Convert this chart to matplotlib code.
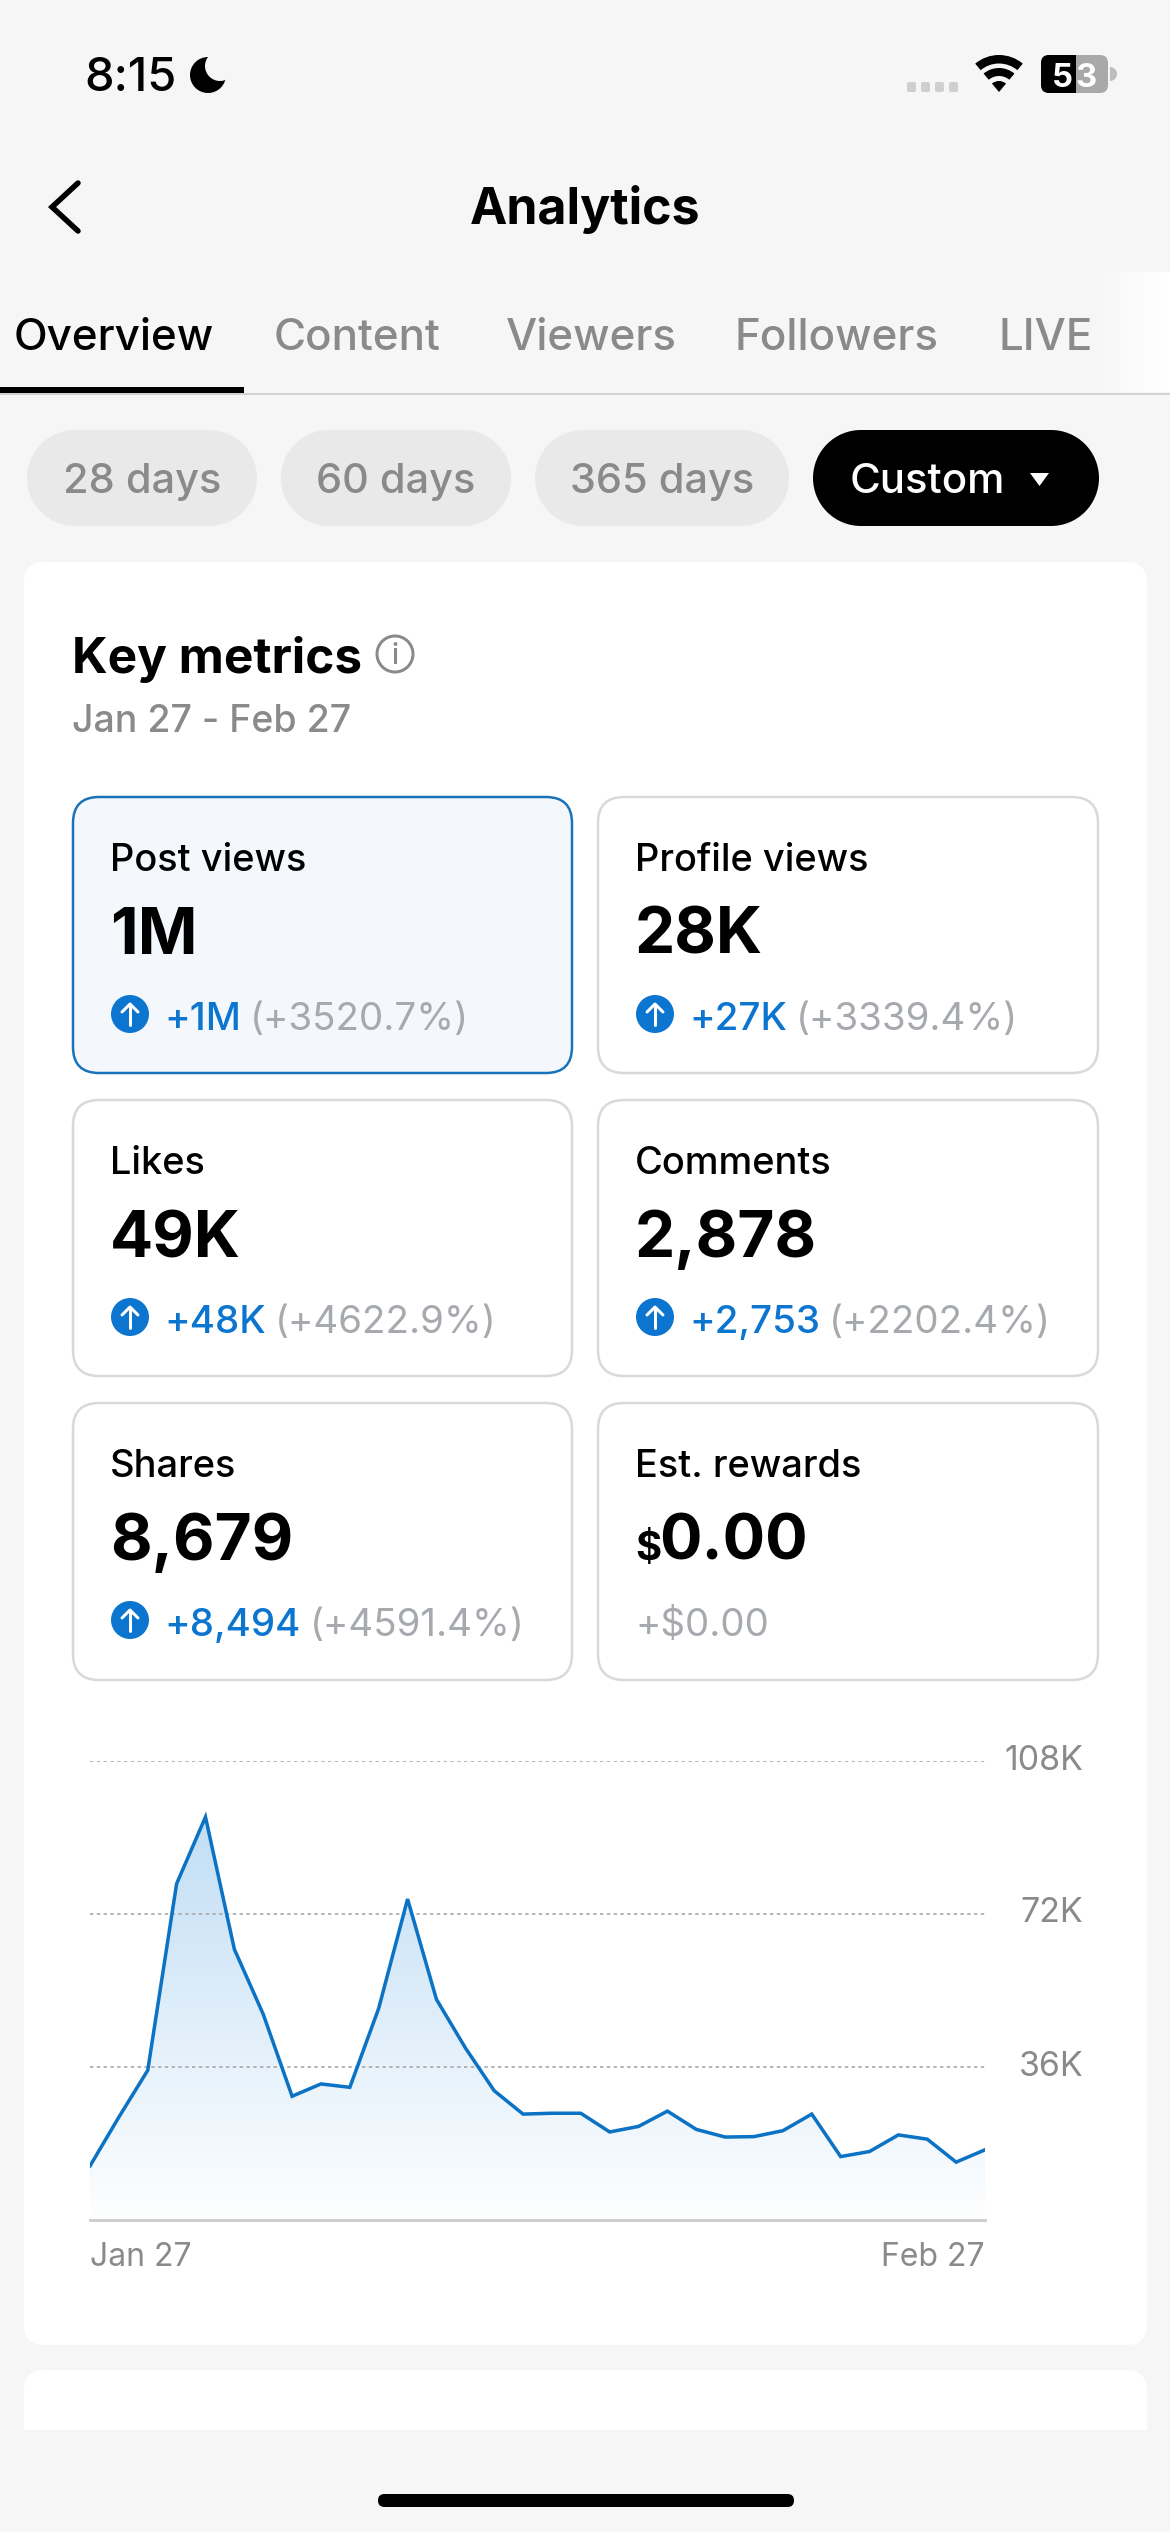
import matplotlib
matplotlib.use("Agg")
import matplotlib.pyplot as plt
import numpy as np
from matplotlib.patches import FancyBboxPatch, Circle, Wedge, Polygon, Rectangle

plt.rcParams['font.family'] = ['Inter', 'DejaVu Sans']

# --- data ---
post_views = [12.6, 24.1, 35.1, 79.0, 94.7, 63.6, 48.3, 29.0, 31.9, 31.1, 49.7, 75.4,
              51.8, 40.4, 30.3, 24.8, 25.0, 25.0, 20.6, 21.9, 25.5, 21.2, 19.4, 19.5,
              20.9, 24.8, 14.8, 16.0, 19.9, 18.9, 13.5, 16.4]
y_ticks = [36, 72, 108]
y_labels = ['36K', '72K', '108K']
x_labels = ['Jan 27', 'Feb 27']

tabs = ['Overview', 'Content', 'Viewers', 'Followers', 'LIVE']
pills = ['28 days', '60 days', '365 days']
metric_names = ['Post views', 'Profile views', 'Likes', 'Comments', 'Shares', 'Est. rewards']
metric_values = ['1M', '28K', '49K', '2,878', '8,679', '0.00']
metric_deltas = ['+1M', '+27K', '+48K', '+2,753', '+8,494', '']
metric_pcts = ['(+3520.7%)', '(+3339.4%)', '(+4622.9%)', '(+2202.4%)', '(+4591.4%)', '+$0.00']

BG = '#f6f6f6'
BLUE = '#0b75d0'
GRAY = '#8a8a8a'
LIGHT = '#a6a9ae'

W, H = 1170, 2532
fig = plt.figure(figsize=(W / 100, H / 100), dpi=100, facecolor=BG)
ui = fig.add_axes([0, 0, 1, 1])
ui.set_xlim(0, W)
ui.set_ylim(H, 0)
ui.axis('off')


def px(size):
    return size * 0.72


def txt(x, y, s, size, color='black', weight='normal', ha='left', **kw):
    return ui.text(x, y, s, fontsize=px(size), color=color, fontweight=weight,
                   ha=ha, va='baseline', **kw)


def box(x0, y0, x1, y1, r, fc, ec='none', lw=0, z=1):
    p = FancyBboxPatch((x0, y0), x1 - x0, y1 - y0, boxstyle=f'round,pad=0,rounding_size={r}',
                       fc=fc, ec=ec, lw=px(lw), zorder=z)
    ui.add_patch(p)


def pill(x0, y0, x1, y1, fc):
    # true semicircle ends, the bezier corners of box() look too square here
    r = (y1 - y0) / 2
    ui.add_patch(Circle((x0 + r, y0 + r), r, fc=fc, ec='none'))
    ui.add_patch(Circle((x1 - r, y0 + r), r, fc=fc, ec='none'))
    ui.add_patch(Rectangle((x0 + r, y0), x1 - x0 - 2 * r, y1 - y0, fc=fc, ec='none'))


# --- status bar ---
txt(84, 91, '8:15', 47, weight='medium')
ui.add_patch(Circle((208, 75), 18, fc='black', ec='none'))
ui.add_patch(Circle((220, 66), 15, fc=BG, ec='none'))
for bx in (907, 921, 935, 949):
    box(bx, 82, bx + 9, 92, 2, '#cfcfcf')
ui.add_patch(Wedge((999, 92), 37, 230, 310, width=8.5, fc='black', ec='none'))
ui.add_patch(Wedge((999, 92), 24, 230, 310, width=8, fc='black', ec='none'))
ui.add_patch(Wedge((999, 92), 11, 230, 310, fc='black', ec='none'))
box(1041, 55, 1108, 93, 8, '#a9a9a9')
ui.add_patch(Wedge((1110, 74), 7, 270, 90, fc='#bdbdbd', ec='none'))
clip = Rectangle((1041, 55), 35, 38, transform=ui.transData)
black = FancyBboxPatch((1041, 55), 67, 38, boxstyle='round,pad=0,rounding_size=8', fc='black', ec='none', zorder=2)
ui.add_patch(black)
black.set_clip_path(clip)
txt(1062, 87, '5', 33, color='white', weight='bold', ha='center', zorder=3)
txt(1086, 87, '3', 33, color='white', weight='bold', ha='center', zorder=3)

# --- header ---
ui.plot([78, 52, 78], [183, 207, 231], color='black', lw=px(5.5), solid_capstyle='round', solid_joinstyle='miter')
txt(585, 224, 'Analytics', 50, weight='bold', ha='center')

# --- tabs ---
tab_x = [14, 274, 506, 735, 998]
for i, (x, name) in enumerate(zip(tab_x, tabs)):
    txt(x, 350, name, 44, color='black' if i == 0 else GRAY, weight='medium')
fade = np.linspace(0, 1, 64).reshape(1, -1, 1)
fade_rgba = np.dstack([np.ones((1, 64, 3)), fade])
ui.imshow(fade_rgba, extent=(1085, 1170, 392, 272), aspect='auto', zorder=2)
ui.set_xlim(0, W)
ui.set_ylim(H, 0)
ui.plot([0, W], [393.5, 393.5], color='#d2d2d2', lw=px(2), zorder=3)
ui.add_patch(Rectangle((0, 387), 244, 6, fc='black', ec='none', zorder=4))

# --- range pills ---
pill_x = [(27, 257), (281, 511), (535, 789)]
pill_tx = [142, 395.5, 662]
for (x0, x1), tx, name in zip(pill_x, pill_tx, pills):
    pill(x0, 430, x1, 526, '#e9e9e9')
    txt(tx, 493, name, 41.5, color=GRAY, weight='medium', ha='center')
pill(813, 430, 1099, 526, 'black')
txt(850, 493, 'Custom', 42, color='white', weight='medium')
ui.add_patch(Polygon([(1030, 473), (1049, 473), (1039.5, 486)], fc='white', ec='none'))

# --- main card ---
box(24, 562, 1147, 2345, 20, 'white')
box(24, 2370, 1147, 2460, 20, 'white')
ui.add_patch(Rectangle((0, 2430), W, H - 2430, fc=BG, ec='none', zorder=2))
box(378, 2494, 794, 2507, 6.5, 'black', z=3)

txt(72, 673, 'Key metrics', 49.5, weight='bold')
ui.add_patch(Circle((395, 654), 18, fc='none', ec=GRAY, lw=px(3)))
txt(395, 664, 'i', 28, color=GRAY, ha='center', weight='medium')
txt(72, 732, 'Jan 27 - Feb 27', 37.5, color=GRAY, weight='medium')

# --- metric cards ---
renderer = fig.canvas.get_renderer()
col_x = [(73, 572), (598, 1098)]
row_y = [(797, 1073), (1100, 1376), (1403, 1680)]
for i, name in enumerate(metric_names):
    x0, x1 = col_x[i % 2]
    y0, y1 = row_y[i // 2]
    if i == 0:
        box(x0, y0, x1, y1, 26, '#f4f8fd', ec='#1a73b8', lw=2.5)
    else:
        box(x0, y0, x1, y1, 26, 'white', ec='#d9d9d9', lw=2.5)
    tx = x0 + 37
    txt(tx, y0 + 74, name, 38, weight='medium', zorder=3)
    if name == 'Est. rewards':
        t = txt(tx, y0 + 157, '$', 40, weight='bold', zorder=3)
        txt(tx + 24, y0 + 157, metric_values[i], 63, weight='bold', zorder=3)
        txt(tx, y0 + 233, metric_pcts[i], 38.5, color=LIGHT, zorder=3)
        continue
    txt(tx, y0 + 157, metric_values[i], 64, weight='bold', zorder=3)
    cx, cy = tx + 20, y0 + 217
    ui.add_patch(Circle((cx, cy), 19, fc=BLUE, ec='none', zorder=3))
    ui.plot([cx, cx], [cy + 11, cy - 9], color='white', lw=px(3), zorder=4, solid_capstyle='round')
    ui.plot([cx - 8, cx, cx + 8], [cy - 2, cy - 10, cy - 2], color='white', lw=px(3), zorder=4,
            solid_capstyle='round')
    d = txt(tx + 54, y0 + 233, metric_deltas[i], 38.5, color=BLUE, weight='medium', zorder=3)
    right = d.get_window_extent(renderer).x1
    txt(right + 9, y0 + 233, metric_pcts[i], 38.5, color=LIGHT, zorder=3)

# --- line chart ---
ax_l, ax_r, ax_t, ax_b = 90, 985, 1760.5, 2219.5
ax = fig.add_axes([ax_l / W, 1 - ax_b / H, (ax_r - ax_l) / W, (ax_b - ax_t) / H])
ax.patch.set_alpha(0)
x = np.arange(len(post_views))
ax.set_xlim(0, len(post_views) - 1)
ax.set_ylim(0, 108)

grad = np.linspace(1, 0, 256).reshape(-1, 1)
top = np.array([0.76, 0.87, 0.96])
bot = np.array([0.995, 0.998, 1.0])
rgb = bot + (top - bot) * grad[..., None]
img = ax.imshow(rgb, extent=(0, len(post_views) - 1, 0, max(post_views)), aspect='auto', zorder=1)
poly = ax.fill_between(x, post_views, 0, color='none')
img.set_clip_path(poly.get_paths()[0], transform=ax.transData)
ax.set_xlim(0, len(post_views) - 1)
ax.set_ylim(0, 108)

ax.plot(x, post_views, color='#0b72c4', lw=px(3.5), zorder=3, solid_joinstyle='miter')

for s in ('top', 'left', 'right'):
    ax.spines[s].set_visible(False)
ax.spines['bottom'].set_color('#cfcfcf')
ax.spines['bottom'].set_linewidth(px(3))

ax.yaxis.tick_right()
ax.set_yticks(y_ticks, y_labels)
ax.tick_params(axis='y', length=0, pad=px(98.5), labelsize=px(34), labelcolor=GRAY)
for lab in ax.get_yticklabels():
    lab.set_ha('right')
    lab.set_va('center')
ax.grid(axis='y', color='#aaaaaa', lw=px(1.7), ls=(0, (2, 2)), zorder=2)
ax.set_xticks([0, len(post_views) - 1], x_labels)
ax.tick_params(axis='x', length=0, pad=px(23), labelsize=px(32), labelcolor=GRAY)
xl = ax.get_xticklabels()
xl[0].set_ha('left')
xl[1].set_ha('right')

fig.savefig('out.png', dpi=100, facecolor=BG)
